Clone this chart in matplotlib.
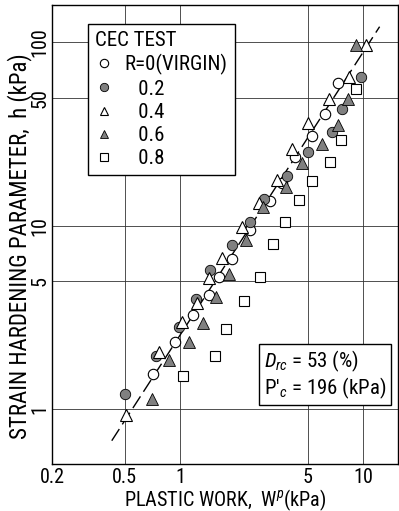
import matplotlib
matplotlib.use("Agg")
import matplotlib.pyplot as plt
from matplotlib import font_manager
from matplotlib.ticker import FixedLocator, FixedFormatter, NullLocator


def pick_narrow_font():
    # the scanned figure uses a condensed lettering, find something close
    prefs = ['Liberation Sans Narrow', 'Roboto Condensed', 'Noto Sans Condensed',
             'DejaVu Sans Condensed', 'Open Sans Condensed']
    fonts = font_manager.fontManager.ttflist
    for p in prefs:
        for f in fonts:
            if f.name == p and f.style == 'normal':
                return f.name, f.stretch, True
    for f in fonts:
        if f.style == 'normal' and f.weight == 400 and f.stretch in ('condensed', 'semi-condensed', 'extra-condensed'):
            return f.name, f.stretch, True
    return 'Liberation Sans', 'normal', False


font_name, font_stretch, is_narrow = pick_narrow_font()
plt.rcParams['font.family'] = [font_name, 'DejaVu Sans']
plt.rcParams['font.stretch'] = font_stretch
plt.rcParams['mathtext.fontset'] = 'custom'
plt.rcParams['mathtext.rm'] = font_name
plt.rcParams['mathtext.it'] = font_name + ':italic'
scale = 1.0 if is_narrow else 0.8

# plastic work W^p (kPa) and strain hardening parameter h (kPa), per R
w_r00 = [0.716, 0.939, 1.183, 1.434, 1.640, 1.913, 2.414, 3.103, 3.608, 4.257, 5.225, 6.190, 7.305]
h_r00 = [1.553, 2.313, 3.240, 4.166, 5.257, 6.616, 9.49, 13.58, 17.03, 23.62, 30.75, 40.91, 60.09]

w_r02 = [0.503, 0.737, 0.992, 1.218, 1.455, 1.933, 2.414, 2.860, 3.818, 5.000, 6.743, 7.684, 9.727]
h_r02 = [1.205, 1.947, 2.793, 3.972, 5.704, 7.81, 10.43, 14.02, 18.60, 25.15, 32.33, 43.35, 64.74]

w_r04 = [0.506, 0.768, 1.022, 1.241, 1.439, 1.688, 2.170, 2.714, 3.368, 4.075, 5.000, 6.485, 8.422, 10.38]
h_r04 = [0.922, 2.047, 2.967, 3.777, 5.204, 6.65, 9.856, 13.28, 17.73, 26.12, 36.13, 49.27, 64.98, 97.15]

w_r06 = [0.704, 0.876, 1.120, 1.341, 1.565, 1.850, 2.305, 2.824, 3.808, 4.609, 5.925, 7.334, 8.283, 9.194]
h_r06 = [1.138, 1.840, 2.322, 2.938, 4.104, 5.472, 8.403, 12.72, 16.30, 21.96, 27.81, 35.40, 49.15, 96.54]

w_r08 = [1.044, 1.546, 1.775, 2.239, 2.728, 3.210, 3.737, 4.439, 5.225, 6.633, 7.586, 9.194]
h_r08 = [1.514, 1.947, 2.728, 3.902, 5.237, 7.91, 10.46, 13.84, 17.58, 22.40, 29.54, 55.53]

# dashed trend line end points
fit_w = [0.424, 12.3]
fit_h = [0.67, 122]

x_ticks = [0.2, 0.5, 1, 5, 10]
x_tick_labels = ['0.2', '0.5', '1', '5', '10']
y_ticks = [1, 5, 10, 50, 100]
y_tick_labels = ['1', '5', '10', '50', '100']

fig = plt.figure(figsize=(3.99, 5.11), dpi=100)
ax = fig.add_axes([0.1303, 0.092, 0.8672, 0.898])

ax.set_xscale('log')
ax.set_yscale('log')
ax.set_xlim(0.2, 15.5)
ax.set_ylim(0.5, 160)

ax.plot(fit_w, fit_h, color='black', lw=1.0, dashes=(10, 4), zorder=2)

gray = '#808080'
ax.plot(w_r00, h_r00, 'o', ms=7.5, mfc='white', mec='black', mew=0.8, ls='none', label='R=0(VIRGIN)', zorder=3)
ax.plot(w_r02, h_r02, 'o', ms=7.5, mfc=gray, mec='black', mew=0.6, ls='none', label='   0.2', zorder=3)
ax.plot(w_r04, h_r04, '^', ms=8, mfc='white', mec='black', mew=0.8, ls='none', label='   0.4', zorder=3)
ax.plot(w_r06, h_r06, '^', ms=8, mfc=gray, mec='black', mew=0.6, ls='none', label='   0.6', zorder=3)
ax.plot(w_r08, h_r08, 's', ms=7, mfc='white', mec='black', mew=0.8, ls='none', label='   0.8', zorder=3)

ax.xaxis.set_major_locator(FixedLocator(x_ticks))
ax.xaxis.set_major_formatter(FixedFormatter(x_tick_labels))
ax.xaxis.set_minor_locator(NullLocator())
ax.yaxis.set_major_locator(FixedLocator(y_ticks))
ax.yaxis.set_major_formatter(FixedFormatter(y_tick_labels))
ax.yaxis.set_minor_locator(NullLocator())

ax.tick_params(axis='both', length=0, labelsize=14.5 * scale)
ax.tick_params(axis='x', pad=3)
ax.tick_params(axis='y', pad=2)
for lab in ax.get_yticklabels():
    lab.set_rotation(90)
    lab.set_va('center')

ax.grid(True, which='major', color='#333333', lw=0.6)
ax.set_axisbelow(True)
for s in ax.spines.values():
    s.set_linewidth(1.0)

ax.set_xlabel('PLASTIC WORK,  W$^p$(kPa)', fontsize=14.5 * scale, labelpad=0)
ax.set_ylabel('STRAIN HARDENING PARAMETER,  h (kPa)', fontsize=16.5 * scale)
ax.yaxis.set_label_coords(-0.058, 0.475)

leg = ax.legend(title='CEC TEST', loc='upper left', bbox_to_anchor=(0.104, 0.959),
                borderaxespad=0, fontsize=15 * scale, title_fontsize=15 * scale, markerscale=0.8,
                handlelength=0.8, handletextpad=0.6, labelspacing=0.2, borderpad=0.35,
                fancybox=False, framealpha=1, edgecolor='black', alignment='left')
leg.get_frame().set_linewidth(1.0)

ax.text(0.612, 0.138, "$D_{rc}$ = 53 (%)\nP'$_c$ = 196 (kPa)", transform=ax.transAxes,
        fontsize=15 * scale, ha='left', va='bottom', linespacing=1.05,
        bbox=dict(boxstyle='square,pad=0.22', fc='white', ec='black', lw=1.0), zorder=4)

fig.savefig('out.png', dpi=100)
